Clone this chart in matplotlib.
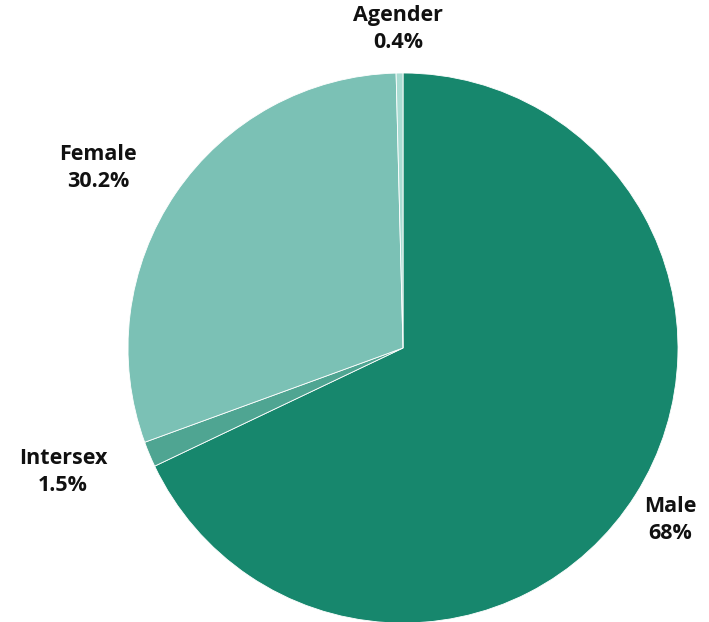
import matplotlib.pyplot as plt

labels = ['Male', 'Intersex', 'Female', 'Agender']
shares = [68.0, 1.5, 30.2, 0.4]
pct_text = ['68%', '1.5%', '30.2%', '0.4%']
colors = ['#17876d', '#4fa592', '#7bc1b5', '#a9dcd2']

# label positions in figure pixels (x, y from top)
label_px = [(670, 520), (63, 472), (98, 168), (398, 29)]

W, H = 709, 622
fig = plt.figure(figsize=(W / 100, H / 100), dpi=100)
cx, cy, r = 403, 348, 275
ax = fig.add_axes([(cx - r) / W, (H - cy - r) / H, 2 * r / W, 2 * r / H])
ax.pie(shares, colors=colors, startangle=90, counterclock=False,
       wedgeprops=dict(edgecolor='white', linewidth=0.6))
ax.set_aspect('auto')
ax.set_xlim(-1, 1)
ax.set_ylim(-1, 1)

for name, pct, (px, py) in zip(labels, pct_text, label_px):
    fig.text(px / W, 1 - py / H, f"{name}\n{pct}", ha='center', va='center',
             fontsize=15.5, fontweight='bold', family='Open Sans',
             linespacing=1.35, color='#111111')

fig.savefig('out.png', dpi=100)
